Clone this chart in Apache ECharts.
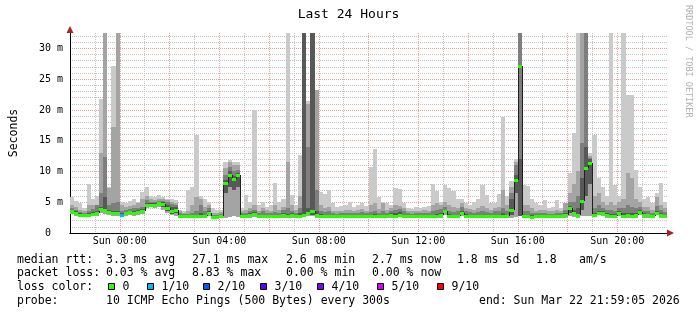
<!DOCTYPE html>
<html><head><meta charset="utf-8">
<script src="https://cdn.jsdelivr.net/npm/echarts@6/dist/echarts.min.js"></script>
<style>html,body{margin:0;padding:0;background:#fff}#c{width:697px;height:315px}</style>
</head><body><div id="c"></div>
<script>
// 10-minute bins from Sat 22:00 to Sun 22:00 (one row = one hour)
const median = [
3.6,3.3,3.0,3.0,3.0,3.1,
3.3,3.9,3.7,3.4,3.3,3.2,
3.0,3.2,3.4,3.2,3.4,3.6,
4.6,4.6,4.5,4.8,4.7,4.0,
3.5,3.8,2.8,2.7,2.7,2.7,
2.7,2.8,2.7,3.2,2.6,2.6,
2.7,8.2,9.5,8.8,9.4,2.8,
2.7,2.9,3.1,2.7,2.7,2.8,
2.7,2.7,2.8,2.9,2.8,2.9,
2.8,2.8,3.0,3.2,3.5,2.9,
2.8,2.7,2.8,2.7,2.7,2.7,
2.7,2.8,2.7,2.7,2.8,2.7,
2.7,2.8,2.7,2.8,2.7,2.9,
2.8,3.0,2.8,2.7,2.7,2.7,
2.7,2.8,2.7,2.7,2.8,2.9,
3.5,2.8,2.8,2.7,3.2,2.8,
2.8,2.7,2.8,2.7,2.8,2.7,
2.8,2.7,2.8,2.8,3.7,8.6,
27.1,2.7,2.7,2.6,2.7,2.7,
2.7,2.7,2.7,2.8,2.7,2.9,
4.0,3.3,3.0,5.2,10.5,11.4,
3.0,3.3,3.2,2.9,2.8,2.8,
3.2,2.8,2.9,2.8,2.9,3.4,
2.9,2.9,2.8,3.3,2.9,2.7
];
const loss = [
0,0,0,0,0,0, 0,0,0,0,0,0, 1,0,0,0,0,0, 0,0,0,0,0,0,
0,0,0,0,0,0, 0,0,0,0,0,0, 0,0,0,0,0,0, 0,0,0,0,0,0,
0,0,0,0,0,0, 0,0,0,0,0,0, 0,0,0,0,0,0, 0,0,0,0,0,0,
0,0,0,0,0,0, 0,0,0,0,0,0, 0,0,0,0,0,0, 0,0,0,0,0,0,
0,0,0,0,0,0, 0,0,0,0,0,0, 0,0,0,0,0,0, 0,0,0,0,0,0,
0,0,0,0,0,0, 0,0,0,0,0,0, 0,0,0,0,0,0, 0,0,0,0,0,0
];
const pingMin = [
3.1,2.8,2.6,2.6,2.6,2.7,
2.8,3.2,3.1,2.9,2.8,2.7,
2.6,2.8,3.0,2.8,3.0,3.1,
4.1,4.2,4.1,4.3,3.7,3.2,
2.9,2.8,2.4,2.4,2.4,2.4,
2.4,2.4,2.4,2.7,2.3,2.3,
2.4,2.5,2.6,2.7,2.6,2.4,
2.4,2.5,2.6,2.4,2.4,2.4,
2.4,2.4,2.4,2.5,2.4,2.5,
2.4,2.4,2.6,2.7,2.8,2.5,
2.4,2.4,2.4,2.4,2.4,2.4,
2.4,2.4,2.4,2.4,2.4,2.4,
2.4,2.4,2.4,2.4,2.4,2.5,
2.4,2.6,2.4,2.4,2.4,2.4,
2.4,2.4,2.4,2.4,2.4,2.5,
3.0,2.4,2.4,2.4,2.8,2.4,
2.4,2.4,2.4,2.4,2.4,2.4,
2.4,2.4,2.4,2.4,2.5,2.6,
2.7,2.4,2.4,2.3,2.4,2.4,
2.4,2.4,2.4,2.4,2.4,2.5,
2.7,2.6,2.4,2.7,2.8,2.7,
2.6,2.9,2.8,2.5,2.4,2.4,
2.8,2.4,2.5,2.4,2.5,2.9,
2.5,2.5,2.4,2.9,2.5,2.4
];
const pingMax = [
5.9,5.2,4.8,4.0,8.0,5.5,
6.0,21.8,33,7.5,27.1,33,
5.0,4.8,5.2,5.5,5.0,6.6,
7.5,6.0,5.9,6.2,5.8,5.6,
5.5,5.3,3.8,3.6,7.0,7.5,
15.9,6.0,5.6,5.0,4.0,3.8,
3.8,11.5,11.8,11.5,11.5,4.0,
6.2,5.0,20.0,4.5,5.0,4.2,
4.5,8.1,5.0,5.5,33,6.2,
4.5,12.6,33,21.5,33,23.2,
6.7,6.3,7.0,4.8,4.2,4.4,
4.6,5.0,4.3,4.5,4.8,4.4,
10.7,13.6,5.8,5.0,4.9,4.6,
7.3,7.1,4.8,4.1,3.9,4.3,
4.0,4.3,4.4,7.9,6.8,5.0,
7.8,7.3,6.8,5.5,5.5,4.8,
4.6,5.0,5.5,7.8,6.2,4.8,
4.9,6.3,18.8,6.0,8.5,12.0,
33,7.8,7.6,5.5,4.8,4.5,
5.3,4.0,4.2,5.3,4.0,4.9,
9.7,16.2,33,33,33,13.0,
15.9,8.9,7.5,6.0,33,7.8,
6.0,33,22.4,22.4,10.2,7.5,
5.5,5.8,4.8,6.5,8.1,5.0
];
const innerLow = [
3.3,3.0,2.8,2.8,2.8,2.9,
3.0,3.5,3.4,3.1,3.0,2.9,
2.8,3.0,3.2,3.0,3.2,3.3,
4.3,4.4,4.3,4.5,4.2,3.5,
3.1,3.2,2.6,2.5,2.5,2.5,
2.5,2.6,2.5,2.9,2.4,2.4,
2.5,6.5,7.5,7.0,7.5,2.6,
2.5,2.7,2.8,2.5,2.5,2.6,
2.5,2.5,2.6,2.7,2.6,2.7,
2.6,2.6,2.8,2.9,3.0,2.7,
2.6,2.5,2.6,2.5,2.5,2.5,
2.5,2.6,2.5,2.5,2.6,2.5,
2.5,2.6,2.5,2.6,2.5,2.7,
2.6,2.8,2.6,2.5,2.5,2.5,
2.5,2.6,2.5,2.5,2.6,2.7,
3.2,2.6,2.6,2.5,3.0,2.6,
2.6,2.5,2.6,2.5,2.6,2.5,
2.6,2.5,2.6,2.6,2.9,6.5,
2.8,2.5,2.5,2.4,2.5,2.5,
2.5,2.5,2.5,2.6,2.5,2.7,
3.2,2.9,2.7,3.8,6.0,8.0,
2.8,3.1,3.0,2.7,2.6,2.6,
3.0,2.6,2.7,2.6,2.7,3.1,
2.7,2.7,2.6,3.1,2.7,2.5
];
const q80 = [
4.6,4.3,3.8,3.6,4.5,4.6,
4.0,13.0,33,7.3,17.2,33,
4.5,4.2,4.4,4.6,4.8,5.5,
6.0,5.5,5.4,5.6,5.5,5.3,
5.0,4.9,3.5,3.3,3.5,4.5,
5.8,5.5,4.2,4.5,3.3,3.3,
3.4,10.5,11.5,11.0,11.0,3.6,
3.8,4.0,4.5,3.6,4.0,3.7,
3.6,4.5,3.8,4.2,11.5,4.5,
3.7,6.0,33,21.0,33,23.2,
4.5,4.0,4.3,3.6,3.5,3.6,
3.7,3.8,3.6,3.8,3.9,3.6,
4.5,4.8,3.9,4.8,3.8,4.0,
4.6,4.4,4.0,3.6,3.5,3.6,
3.6,3.7,3.5,4.5,4.8,4.6,
5.0,4.5,4.2,4.0,4.9,4.0,
3.9,3.8,4.0,4.4,4.0,3.7,
4.0,4.2,7.0,4.5,7.5,11.5,
33,4.5,4.6,4.0,3.6,3.7,
3.8,3.5,3.5,3.7,3.6,4.9,
6.5,8.0,10.0,33,33,12.5,
6.0,6.5,5.0,4.5,5.0,4.6,
5.0,5.5,9.7,9.0,5.5,5.0,
4.2,4.3,3.8,5.8,4.5,4.0
];
const q70 = [
4.0,3.8,3.4,3.3,3.5,3.9,
4.5,6.5,12.3,4.5,4.8,5.0,
3.6,3.7,3.9,4.0,4.1,4.3,
5.3,5.1,5.0,5.2,5.2,5.0,
4.7,4.5,3.3,3.1,3.1,3.2,
3.5,4.5,3.5,4.0,3.0,3.0,
3.1,9.5,10.8,10.0,10.3,3.3,
3.3,3.6,3.8,3.2,3.5,3.3,
3.2,3.4,3.3,3.8,4.0,3.6,
3.3,4.0,33,14.0,33,7.0,
3.6,3.4,3.5,3.2,3.1,3.2,
3.2,3.3,3.2,3.3,3.4,3.2,
3.4,3.6,3.3,3.6,3.3,3.5,
3.8,3.9,3.5,3.2,3.1,3.2,
3.2,3.3,3.2,3.6,3.7,3.9,
4.2,3.6,3.4,3.5,4.2,3.5,
3.4,3.3,3.4,3.6,3.4,3.2,
3.5,3.5,4.0,3.5,6.5,11.0,
33,3.6,3.5,3.3,3.2,3.2,
3.2,3.1,3.1,3.3,3.2,3.8,
5.0,5.0,6.0,14.6,33,12.2,
4.0,4.5,4.0,3.8,3.8,3.6,
4.0,4.0,4.5,4.2,4.0,4.2,
3.6,3.6,3.3,4.4,3.7,3.4
];
const q60 = [
3.8,3.6,3.2,3.1,3.2,3.4,
3.6,4.2,5.8,3.7,3.6,3.5,
3.2,3.4,3.6,3.5,3.7,3.9,
4.9,4.9,4.8,5.0,5.0,4.5,
4.2,4.2,3.0,2.9,2.9,2.9,
3.0,3.3,3.0,3.6,2.8,2.8,
2.9,8.6,10.0,9.3,9.7,3.0,
2.9,3.2,3.4,2.9,3.0,3.0,
2.9,3.0,3.0,3.2,3.1,3.2,
3.0,3.2,33,4.0,33,3.5,
3.1,3.0,3.0,2.9,2.9,2.9,
2.9,3.0,2.9,2.9,3.0,2.9,
3.0,3.1,2.9,3.0,2.9,3.2,
3.2,3.4,3.0,2.9,2.9,2.9,
2.9,3.0,2.9,3.0,3.1,3.3,
3.8,3.1,3.0,3.0,3.6,3.1,
3.0,2.9,3.0,3.0,3.0,2.9,
3.0,3.0,3.2,3.0,5.5,9.5,
12.0,3.0,3.0,2.9,2.9,2.9,
2.9,2.9,2.9,3.0,2.9,3.2,
4.4,3.8,4.0,9.0,14.0,12.0,
3.3,3.6,3.5,3.2,3.1,3.1,
3.5,3.2,3.3,3.2,3.3,3.8,
3.2,3.1,3.0,3.6,3.2,3.0
];
const xTickIdx = [12, 36, 60, 84, 108, 132];
const xTickLabels = ['Sun 00:00','Sun 04:00','Sun 08:00','Sun 12:00','Sun 16:00','Sun 20:00'];
const yTickLabels = ['0  ','5 m','10 m','15 m','20 m','25 m','30 m'];
const lossLabels = ['0','1/10','2/10','3/10','4/10','5/10','9/10'];
const lossColors = ['#26ff00','#00b8ff','#0059ff','#5e00ff','#7e00ff','#dd00ff','#ff0000'];
const smokeColors = ['#cacaca','#a4a4a4','#7e7e7e','#585858'];
const legendLine1 = [['median rtt:',17],['3.3 ms avg',106],['27.1 ms max',192],['2.6 ms min',286],['2.7 ms now',372],['1.8 ms sd',457],['1.8',536],['am/s',579]];
const legendLine2 = [['packet loss:',17],['0.03 % avg',106],['8.83 % max',192],['0.00 % min',286],['0.00 % now',372]];
const legendLine4 = [['probe:',17],['10 ICMP Echo Pings (500 Bytes) every 300s',106],['end: Sun Mar 22 21:59:05 2026',479]];
const lossSquareX = [108,147,203,260,317,377,437];

const N = median.length;
const smokeRows = [], medRows = [];
for (let i = 0; i < N; i++) {
  smokeRows.push([i, pingMin[i], pingMax[i], innerLow[i], q80[i], q70[i], q60[i]]);
  medRows.push([i, median[i], loss[i], i > 0 ? median[i-1] : median[i]]);
}

const MONO = 'DejaVu Sans Mono';
const chart = echarts.init(document.getElementById('c'), null, {renderer: 'canvas'});

function smokeItem(params, api) {
  const i = api.value(0);
  const xs = Math.round(api.coord([i, 0])[0]);
  const xe = Math.round(api.coord([i + 1, 0])[0]);
  // [lowDim, highDim, colourIndex]
  const layers = [[1, 2, 0], [1, 4, 1], [3, 5, 2], [3, 6, 3]];
  const children = layers.map(function (L) {
    const y0 = Math.round(api.coord([i, api.value(L[0])])[1]);
    const y1 = Math.round(api.coord([i, api.value(L[1])])[1]);
    return {type: 'rect', shape: {x: xs, y: y1, width: xe - xs, height: Math.max(0, y0 - y1)}, style: {fill: smokeColors[L[2]]}};
  });
  return {type: 'group', children: children};
}
function medItem(params, api) {
  const i = api.value(0), m = api.value(1), l = api.value(2), pm = api.value(3);
  const p0 = api.coord([i, m]), p1 = api.coord([i + 1, m]);
  const x0 = Math.round(p0[0]), x1 = Math.round(p1[0]);
  const y = Math.round(p0[1]);
  const yp = Math.round(api.coord([i, pm])[1]);
  const children = [];
  if (Math.abs(yp - y) > 2) {
    children.push({type: 'line', shape: {x1: x0 + 0.5, y1: yp, x2: x0 + 0.5, y2: y}, style: {stroke: '#202020', lineWidth: 1}});
  }
  children.push({type: 'rect', shape: {x: x0, y: y - 1, width: x1 - x0, height: 3}, style: {fill: lossColors[l]}});
  return {type: 'group', children: children};
}

const graphics = [];
function addLine(items, y) {
  items.forEach(function (it) {
    graphics.push({type: 'text', x: it[1], y: y, style: {text: it[0], font: '11.5px "' + MONO + '"', fill: '#000', textVerticalAlign: 'middle'}});
  });
}
addLine(legendLine1, 260);
addLine(legendLine2, 273.5);
addLine([['loss color:', 17]], 287);
lossLabels.forEach(function (lab, k) {
  graphics.push({type: 'rect', shape: {x: lossSquareX[k] + 0.5, y: 283.5, width: 6, height: 6}, style: {fill: lossColors[k], stroke: '#000', lineWidth: 1}});
  graphics.push({type: 'text', x: lossSquareX[k] + 14.5, y: 287, style: {text: lab, font: '11.5px "' + MONO + '"', fill: '#000', textVerticalAlign: 'middle'}});
});
addLine(legendLine4, 301);
graphics.push({type: 'text', x: 688, y: 5, rotation: -Math.PI / 2, style: {text: 'RRDTOOL / TOBI OETIKER', font: '8.5px "' + MONO + '"', fill: '#b0b0b0', textAlign: 'left', textVerticalAlign: 'middle'}});

const gridDot = [1, 1];
chart.setOption({
  animation: false,
  backgroundColor: '#ffffff',
  title: {text: 'Last 24 Hours', left: 'center', top: 3, textStyle: {fontFamily: MONO, fontSize: 13, fontWeight: 'normal', color: '#000'}},
  grid: {left: 67, right: 30, top: 33, bottom: 82},
  xAxis: [
    {type: 'value', min: 0, max: N, interval: 6, position: 'bottom',
     axisLine: {show: true, symbol: ['none', 'triangle'], symbolSize: [7, 7], symbolOffset: [0, 3.5], lineStyle: {color: '#b02020', width: 1}},
     axisTick: {show: false}, axisLabel: {show: false},
     splitLine: {show: true, showMinLine: false, showMaxLine: false, lineStyle: {color: '#c4c4c4', type: gridDot, width: 1}}},
    {type: 'value', min: 0, max: N, interval: 12, position: 'bottom',
     axisLine: {show: true, lineStyle: {color: '#000', width: 1}},
     axisTick: {show: false},
     axisLabel: {margin: 3, fontFamily: MONO, fontSize: 10, color: '#000',
       formatter: function (v) { const k = xTickIdx.indexOf(v); return k >= 0 ? xTickLabels[k] : ''; }},
     splitLine: {show: true, showMinLine: false, showMaxLine: false, lineStyle: {color: '#eba0a0', type: gridDot, width: 1}}}
  ],
  yAxis: [
    {type: 'value', min: 0, max: 32.5, interval: 1, position: 'left',
     axisLine: {show: true, symbol: ['none', 'triangle'], symbolSize: [7, 7], symbolOffset: [0, 3.5], lineStyle: {color: '#b02020', width: 1}},
     axisTick: {show: false}, axisLabel: {show: false},
     splitLine: {show: true, showMinLine: false, showMaxLine: false, lineStyle: {color: '#c4c4c4', type: gridDot, width: 1}}},
    {type: 'value', min: 0, max: 32.5, interval: 5, position: 'left',
     axisLine: {show: true, lineStyle: {color: '#000', width: 1}},
     axisTick: {show: false},
     axisLabel: {margin: 7, fontFamily: MONO, fontSize: 10, color: '#000',
       formatter: function (v) { return (v % 5 === 0) ? yTickLabels[v / 5] : ''; }},
     splitLine: {show: true, showMinLine: false, showMaxLine: false, lineStyle: {color: '#eba0a0', type: gridDot, width: 1}},
     name: 'Seconds', nameLocation: 'middle', nameGap: 50, nameRotate: 90,
     nameTextStyle: {fontFamily: MONO, fontSize: 11.5, color: '#000'}}
  ],
  series: [
    {type: 'custom', xAxisIndex: 1, yAxisIndex: 1, clip: true, renderItem: smokeItem, data: smokeRows, silent: true, z: 2},
    {type: 'custom', xAxisIndex: 1, yAxisIndex: 1, clip: true, renderItem: medItem, data: medRows, silent: true, z: 3}
  ],
  graphic: graphics
});
</script>
</body></html>
